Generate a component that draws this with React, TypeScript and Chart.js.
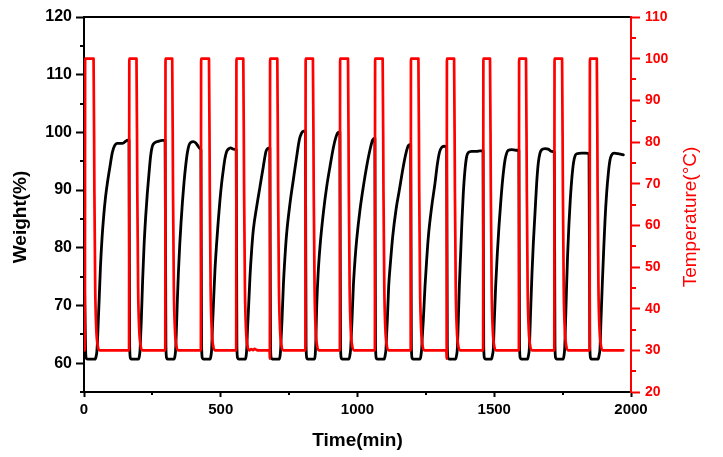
import React, { useEffect, useRef } from "react";
import { Chart, registerables } from "chart.js";

Chart.register(...registerables);

const FONT = "'Liberation Sans', Arial, Helvetica, sans-serif";

const xTitle = "Time(min)";
const leftTitle = "Weight(%)";
const rightTitle = "Temperature(°C)";

const leftMinorTicks = [55, 65, 75, 85, 95, 105, 115];
const rightMinorTicks = [25, 35, 45, 55, 65, 75, 85, 95, 105];
const xMinorTicks = [250, 750, 1250, 1750];

// Temperature (°C) vs time (min) — red, right axis
const temperaturePoints: [number, number][] = [
  [0, 30], [3.2, 30], [4.2, 100], [35, 100], [38, 68], [41, 45], [45, 35], [50, 31.2], [57, 30],
  [164.7, 30], [165.7, 100], [191.9, 100], [194.9, 68], [197.9, 45], [201.9, 35], [206.9, 31.2], [213.9, 30],
  [297.1, 30], [298.1, 100], [322.5, 100], [325.5, 68], [328.5, 45], [332.5, 35], [337.5, 31.2], [344.5, 30],
  [427.3, 30], [428.3, 100], [457, 100], [460, 68], [463, 45], [467, 35], [472, 31.2], [479, 30],
  [556.4, 30], [557.4, 100], [582.4, 100], [585.4, 68], [588.4, 45], [592.4, 35], [597.4, 31.2], [604.4, 30],
  [612, 30.3], [618, 30.05], [624, 30.35], [632, 30.05], [640, 30],
  [678.5, 30], [679.5, 28], [680.5, 100], [706.8, 100], [709.8, 68], [712.8, 45], [716.8, 35], [721.8, 31.2], [728.8, 30],
  [809.5, 30], [810.5, 100], [837, 100], [840, 68], [843, 45], [847, 35], [852, 31.2], [859, 30],
  [935.5, 30], [936.5, 100], [965.3, 100], [968.3, 68], [971.3, 45], [975.3, 35], [980.3, 31.2], [987.3, 30],
  [1063.5, 30], [1064.5, 100], [1092, 100], [1095, 68], [1098, 45], [1102, 35], [1107, 31.2], [1114, 30],
  [1194.5, 30], [1195.5, 100], [1222.7, 100], [1225.7, 68], [1228.7, 45], [1232.7, 35], [1237.7, 31.2], [1244.7, 30],
  [1325, 30], [1326, 28], [1327, 100], [1353.2, 100], [1356.2, 68], [1359.2, 45], [1363.2, 35], [1368.2, 31.2], [1375.2, 30],
  [1459.3, 30], [1460.3, 100], [1484.5, 100], [1487.5, 68], [1490.5, 45], [1494.5, 35], [1499.5, 31.2], [1506.5, 30],
  [1590, 30], [1591, 100], [1616.1, 100], [1619.1, 68], [1622.1, 45], [1626.1, 35], [1631.1, 31.2], [1638.1, 30],
  [1719.5, 30], [1720.5, 100], [1748, 100], [1751, 68], [1754, 45], [1758, 35], [1763, 31.2], [1770, 30],
  [1848.8, 30], [1849.8, 100], [1875, 100], [1878, 68], [1881, 45], [1885, 35], [1890, 31.2], [1897, 30], [1972, 30],
];

// Weight (%) vs time (min) — black, left axis
const weightPoints: [number, number][] = [
  [1, 76], [4.5, 66], [6.5, 61.5], [9, 60.8], [14, 60.7], [40, 60.7], [44, 61.1], [47, 62], [49.5, 64], [52, 67],
  [55, 70.5], [60, 76.5], [66, 81.7], [72, 85.5], [79, 88.9], [86, 91.4], [95, 94.1], [103.5, 96.5], [112, 97.7],
  [121, 98.1], [140, 98.1], [148, 98.3], [156, 98.6], [164.5, 98.7],
  [167, 63], [169.5, 60.9], [173, 60.7], [199, 60.7], [202.5, 61.2], [205, 62.3], [207.3, 64.8], [209.6, 67.5],
  [214.5, 74.5], [219.4, 80.2], [225.5, 85.4], [231.6, 89.5], [237.7, 92.9], [243.8, 96.0], [249.9, 97.6],
  [258.4, 98.2], [274.2, 98.5], [286.4, 98.6], [296.5, 98.6],
  [299.5, 63], [302, 60.9], [305.5, 60.7], [329, 60.7], [332.5, 61.2], [335, 62.3], [338, 66], [341, 70.5],
  [345, 75.5], [350, 80.5], [355, 84.5], [360, 88], [366, 91.5], [372, 94.3], [378, 96.5], [384, 97.8],
  [392, 98.3], [400, 98.4], [408, 98.2], [416, 97.7], [424, 97.2], [427.5, 97.0],
  [430, 63], [432.5, 60.9], [436, 60.7], [461, 60.7], [464, 61.2], [466.8, 62.5], [469.5, 66], [472.9, 69.8],
  [478.9, 76.2], [485, 80.8], [491.1, 84.8], [497.2, 88.3], [503.3, 91.2], [509.4, 93.5], [515.5, 95.5],
  [521.6, 96.7], [527.7, 97.1], [536.2, 97.3], [546, 97.1], [556.5, 97.0],
  [559, 63], [561.5, 60.9], [565, 60.7], [590, 60.7], [593, 61.3], [595, 62.5], [598, 66], [600.8, 68.7],
  [606.9, 75], [613, 79.6], [619.1, 83.1], [631.3, 87.1], [643.5, 90.6], [655.7, 94.1], [665.4, 96.7],
  [671.5, 97.2], [679.5, 97.3],
  [682, 63], [684.5, 60.9], [688, 60.7], [714, 60.7], [717, 61.3], [719.1, 62.5], [721.5, 65], [724, 67.5],
  [728.8, 73.3], [734.9, 78.5], [741, 82.5], [753.2, 87.7], [765.4, 91.8], [777.6, 95.8], [787.3, 98.7],
  [795.8, 99.9], [802, 100.2], [809.5, 100.2],
  [812, 63], [814.5, 60.9], [818, 60.7], [843, 60.7], [845.5, 61.5], [847.5, 63.5], [850.8, 69.8], [856, 75.5],
  [862.9, 80.2], [875, 86.0], [887.4, 90.6], [899.5, 94.1], [911.5, 97.3], [920, 99], [927, 99.9], [935.5, 100.1],
  [938, 63], [940.5, 60.9], [944, 60.7], [969, 60.7], [972, 61.3], [975, 62.5], [977.5, 65], [979.9, 67.5],
  [984.8, 73.3], [990.9, 77.9], [997, 81.4], [1009.2, 86.6], [1021.3, 90.6], [1033.5, 94.1], [1045.7, 97.0],
  [1055.5, 98.7], [1063.5, 99.0],
  [1066, 63], [1068.5, 60.9], [1072, 60.7], [1098, 60.7], [1101, 61.3], [1104.2, 62.5], [1106.5, 65], [1109.1, 67.5],
  [1114, 73.3], [1121.3, 77.9], [1128.6, 81.9], [1140.8, 86.6], [1153, 90.0], [1165.2, 93.5], [1177.3, 96.4],
  [1185.9, 97.7], [1194.5, 97.9],
  [1197, 63], [1199.5, 60.9], [1203, 60.7], [1229, 60.7], [1232, 61.3], [1234.6, 62.5], [1237.5, 65], [1240.7, 67.5],
  [1246.8, 73.3], [1252.9, 77.9], [1259, 81.9], [1271.2, 87.1], [1283.4, 91.2], [1292, 94.5], [1300, 96.6],
  [1308, 97.4], [1316, 97.6], [1326, 97.5],
  [1328.5, 63], [1331, 60.9], [1334.5, 60.7], [1359, 60.7], [1362, 61.3], [1365, 62.5], [1368.6, 67.5], [1372.3, 73.3],
  [1377.2, 79], [1382, 84.8], [1386.9, 89.5], [1393, 93.5], [1399.1, 95.8], [1405.2, 96.5], [1417.4, 96.7],
  [1435.7, 96.7], [1447.9, 96.8], [1459, 96.8],
  [1461.5, 63], [1464, 60.9], [1467.5, 60.7], [1490, 60.7], [1493, 61.3], [1496.6, 62.5], [1500.3, 67.5], [1505.1, 73.3],
  [1511.2, 79], [1517.3, 83.7], [1523.4, 87.7], [1530.7, 91.8], [1539.3, 95.2], [1545.4, 96.4], [1551.5, 96.9],
  [1563.6, 97.0], [1579.5, 96.9], [1590, 96.9],
  [1592.5, 63], [1595, 60.9], [1598.5, 60.7], [1622, 60.7], [1625, 61.3], [1628.2, 62.5], [1633.1, 69.2], [1638, 75.6],
  [1642.9, 80.8], [1649, 86], [1655.1, 91.2], [1661.1, 94.7], [1667.2, 96.4], [1673.3, 97.0], [1685.5, 97.2],
  [1697.7, 97.1], [1709.9, 96.7], [1719.5, 96.6],
  [1722, 63], [1724.5, 60.9], [1728, 60.7], [1752, 60.7], [1755, 61.3], [1757.5, 62.5], [1760, 66], [1764, 72.5],
  [1768, 78.5], [1773, 84], [1778, 88.3], [1784, 92.2], [1790, 94.8], [1796, 96], [1802, 96.3], [1820, 96.4],
  [1835, 96.4], [1846.5, 96.3],
  [1849.5, 63], [1852, 60.9], [1855.5, 60.7], [1880, 60.7], [1883, 61.3], [1886.6, 62.5], [1890.3, 67.5], [1895.2, 73.9],
  [1900.1, 79.6], [1905, 84.8], [1911, 89.5], [1917.1, 92.9], [1923.2, 95.2], [1929.3, 96.1], [1939.1, 96.4],
  [1953.7, 96.3], [1965, 96.2], [1972, 96.1],
];

export default function App() {
  const ref = useRef<HTMLCanvasElement>(null);

  useEffect(() => {
    const canvas = ref.current;
    if (!canvas) return;

    const decor = {
      id: "decor",
      afterDraw(chart: any) {
        const ctx = chart.ctx as CanvasRenderingContext2D;
        const area = chart.chartArea;
        const sx = chart.scales.x;
        const sy = chart.scales.y;
        const sr = chart.scales.y1;
        ctx.save();
        ctx.lineWidth = 2;
        ctx.lineCap = "butt";
        ctx.strokeStyle = "#000";
        ctx.beginPath();
        leftMinorTicks.forEach((v) => {
          const p = Math.round(sy.getPixelForValue(v));
          ctx.moveTo(area.left - 4, p);
          ctx.lineTo(area.left, p);
        });
        xMinorTicks.forEach((v) => {
          const p = Math.round(sx.getPixelForValue(v));
          ctx.moveTo(p, area.bottom);
          ctx.lineTo(p, area.bottom + 3);
        });
        ctx.stroke();
        ctx.strokeStyle = "#ff0000";
        ctx.beginPath();
        rightMinorTicks.forEach((v) => {
          const p = Math.round(sr.getPixelForValue(v));
          ctx.moveTo(area.right, p);
          ctx.lineTo(area.right + 5, p);
        });
        ctx.stroke();

        const midY = (area.top + area.bottom) / 2 + 12.5;
        ctx.textAlign = "center";
        ctx.textBaseline = "middle";

        ctx.save();
        ctx.fillStyle = "#000";
        ctx.font = `bold 19px ${FONT}`;
        ctx.translate(21, midY);
        ctx.rotate(-Math.PI / 2);
        ctx.fillText(leftTitle, 0, 0);
        ctx.restore();

        ctx.save();
        ctx.fillStyle = "#ff0000";
        ctx.font = `19px ${FONT}`;
        ctx.translate(area.right + 60, midY);
        ctx.rotate(-Math.PI / 2);
        ctx.fillText(rightTitle, 0, 0);
        ctx.restore();

        ctx.restore();
      },
    };

    const chart = new Chart(canvas, {
      type: "line",
      data: {
        datasets: [
          {
            label: "Temperature",
            data: temperaturePoints.map(([x, y]) => ({ x, y })),
            yAxisID: "y1",
            borderColor: "#ff0000",
            borderWidth: 2.7,
            pointRadius: 0,
            cubicInterpolationMode: "monotone",
            borderJoinStyle: "round",
            borderCapStyle: "round",
            order: 0,
          },
          {
            label: "Weight",
            data: weightPoints.map(([x, y]) => ({ x, y })),
            yAxisID: "y",
            borderColor: "#000000",
            borderWidth: 2.8,
            pointRadius: 0,
            cubicInterpolationMode: "monotone",
            borderJoinStyle: "round",
            borderCapStyle: "round",
            order: 1,
          },
        ],
      },
      options: {
        animation: false,
        responsive: false,
        layout: { padding: 0 },
        plugins: { legend: { display: false }, tooltip: { enabled: false } },
        scales: {
          x: {
            type: "linear",
            position: "bottom",
            min: 0,
            max: 2000,
            ticks: {
              stepSize: 500,
              font: { family: FONT, size: 15, weight: "bold" },
              color: "#000",
              padding: 4,
              maxRotation: 0,
              autoSkip: false,
              callback: (v: any) => String(v),
            },
            grid: { drawOnChartArea: false, drawTicks: true, tickLength: 5, tickWidth: 2, tickColor: "#000" },
            border: { display: true, color: "#000", width: 2 },
            title: {
              display: true,
              text: xTitle,
              font: { family: FONT, size: 19, weight: "bold" },
              color: "#000",
              padding: { top: 0, bottom: 5 },
            },
            afterFit: (s: any) => {
              s.height = 65;
            },
          },
          xTop: {
            type: "linear",
            position: "top",
            min: 0,
            max: 2000,
            ticks: { display: false },
            grid: { drawOnChartArea: false, drawTicks: false },
            border: { display: true, color: "#000", width: 2 },
            afterFit: (s: any) => {
              s.height = 17;
            },
          },
          y: {
            type: "linear",
            position: "left",
            min: 55,
            max: 120,
            ticks: {
              stepSize: 10,
              includeBounds: false,
              font: { family: FONT, size: 16, weight: "bold" },
              color: "#000",
              padding: 4,
              callback: (v: any) => String(v),
            },
            grid: { drawOnChartArea: false, drawTicks: true, tickLength: 8, tickWidth: 2, tickColor: "#000" },
            border: { display: true, color: "#000", width: 2 },
            afterFit: (s: any) => {
              s.width = 84;
            },
          },
          y1: {
            type: "linear",
            position: "right",
            min: 20,
            max: 110,
            ticks: {
              stepSize: 10,
              font: { family: FONT, size: 14, weight: "bold" },
              color: "#ff0000",
              padding: 5,
              callback: (v: any) => String(v),
            },
            grid: { drawOnChartArea: false, drawTicks: true, tickLength: 9, tickWidth: 2, tickColor: "#ff0000" },
            border: { display: true, color: "#ff0000", width: 2 },
            afterFit: (s: any) => {
              s.width = 92;
            },
          },
        },
      } as any,
      plugins: [decor],
    });

    return () => chart.destroy();
  }, []);

  return (
    <canvas
      ref={ref}
      width={723}
      height={457}
      style={{ position: "fixed", left: 0, top: 0, width: 723, height: 457 }}
    />
  );
}
